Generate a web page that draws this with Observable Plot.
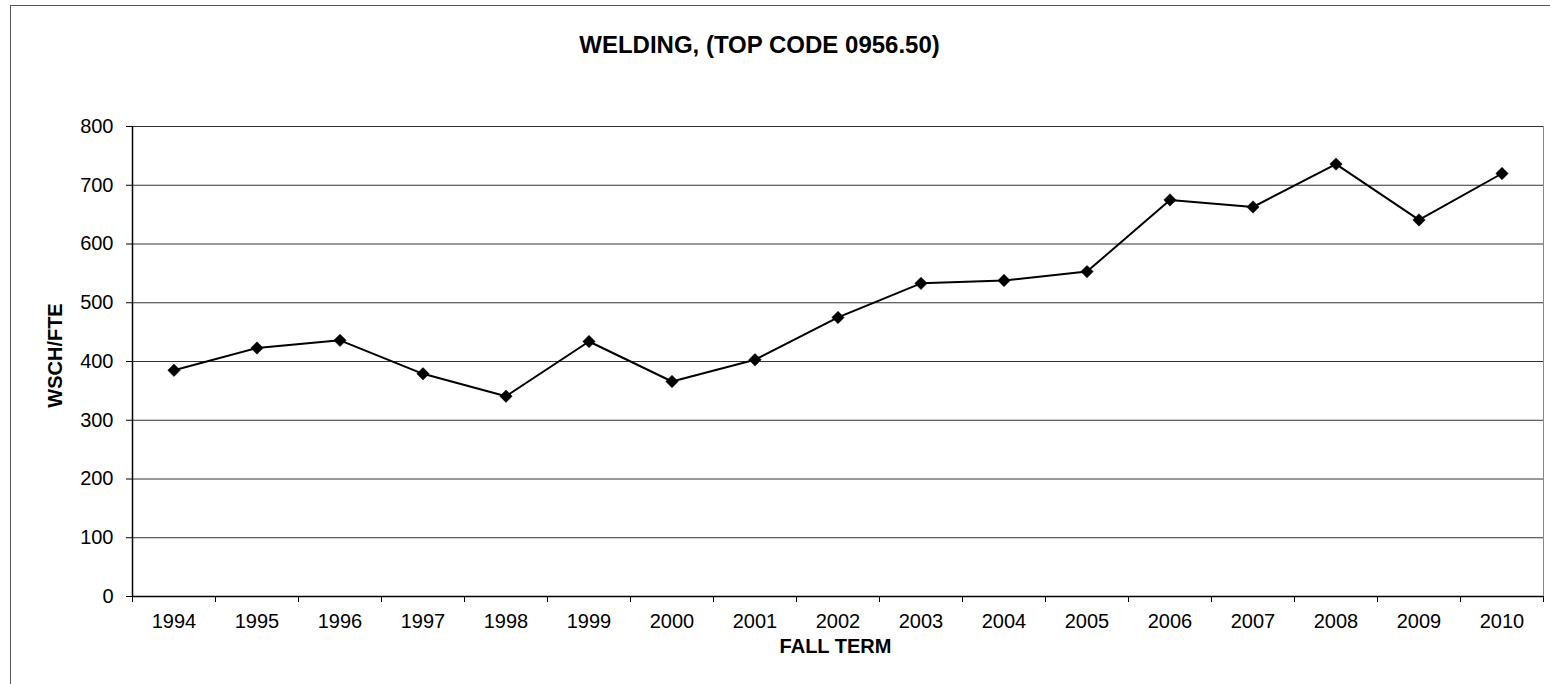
<!DOCTYPE html>
<html>
<head>
<meta charset="utf-8">
<script src="https://cdn.jsdelivr.net/npm/d3@7"></script>
<script src="https://cdn.jsdelivr.net/npm/@observablehq/plot@0.6"></script>
<style>
  html, body { margin: 0; padding: 0; background: #fff; overflow: hidden; }
  #wrap { position: relative; width: 1550px; height: 684px; }
  #border { position: absolute; left: 10px; top: 5px; width: 1600px; height: 760px; border: 1px solid #555; box-sizing: border-box; pointer-events: none; }
  #chart { position: absolute; left: 0; top: 0; }
</style>
</head>
<body>
<div id="wrap"><div id="chart"></div><div id="border"></div></div>
<script>
const title = "WELDING, (TOP CODE 0956.50)";
const xLabel = "FALL TERM";
const yLabel = "WSCH/FTE";
const years = ["1994","1995","1996","1997","1998","1999","2000","2001","2002","2003","2004","2005","2006","2007","2008","2009","2010"];
const values = [385, 423, 436, 379, 341, 434, 366, 403, 475, 533, 538, 553, 675, 663, 736, 641, 720];
const yTicks = [0, 100, 200, 300, 400, 500, 600, 700, 800];

const data = years.map((year, i) => ({year, value: values[i]}));

const W = 1550, H = 684, ML = 132, MR = 7, MT = 126, MB = 88;
const step = (W - ML - MR) / years.length;
const font = "'Liberation Sans', Arial, Helvetica, sans-serif";

const chart = Plot.plot({
  width: W,
  height: H,
  marginLeft: ML,
  marginRight: MR,
  marginTop: MT,
  marginBottom: MB,
  style: {fontFamily: font, fontSize: "20px", background: "transparent", color: "#000"},
  x: {type: "band", domain: years, padding: 0, label: null},
  y: {domain: [0, 800], label: null},
  marks: [
    Plot.ruleY(yTicks.filter(d => d > 0), {stroke: "#333", strokeWidth: 1}),
    Plot.ruleX([years[years.length - 1]], {dx: step / 2, y1: 0, y2: 800, stroke: "#888", strokeWidth: 1}),
    Plot.ruleX([years[0]], {dx: -step / 2, y1: 0, y2: 800, stroke: "#000", strokeWidth: 1.5}),
    Plot.ruleY([0], {stroke: "#000", strokeWidth: 1.5}),
    Plot.ruleX(years, {x: d => d, dx: -step / 2, y1: 0, y2: 0, insetBottom: -6, stroke: "#000"}),
    Plot.ruleX([years[years.length - 1]], {dx: step / 2, y1: 0, y2: 0, insetBottom: -6, stroke: "#000"}),
    Plot.axisY({ticks: yTicks, tickSize: 6, tickPadding: 13, fontSize: 20, label: null, fill: "#000", stroke: "#000"}),
    Plot.axisX({tickSize: 0, tickPadding: 17, fontSize: 20, label: null, fill: "#000"}),
    Plot.line(data, {x: "year", y: "value", stroke: "#000", strokeWidth: 2}),
    Plot.dot(data, {x: "year", y: "value", symbol: "diamond2", r: 5.6, fill: "#000", stroke: "#000", strokeWidth: 0.5}),
    Plot.text([title], {frameAnchor: "top", textAnchor: "middle", lineAnchor: "middle", dx: -78.5, dy: -81, fontSize: 24, fontWeight: "bold", fill: "#000"}),
    Plot.text([xLabel], {frameAnchor: "bottom", textAnchor: "middle", lineAnchor: "middle", dx: -2.5, dy: 50.5, fontSize: 20, fontWeight: "bold", fill: "#000"}),
    Plot.text([yLabel], {frameAnchor: "left", textAnchor: "middle", lineAnchor: "middle", dx: -77, dy: -6, rotate: -90, fontSize: 20, fontWeight: "bold", fill: "#000"})
  ]
});
document.getElementById("chart").appendChild(chart);
</script>
</body>
</html>
